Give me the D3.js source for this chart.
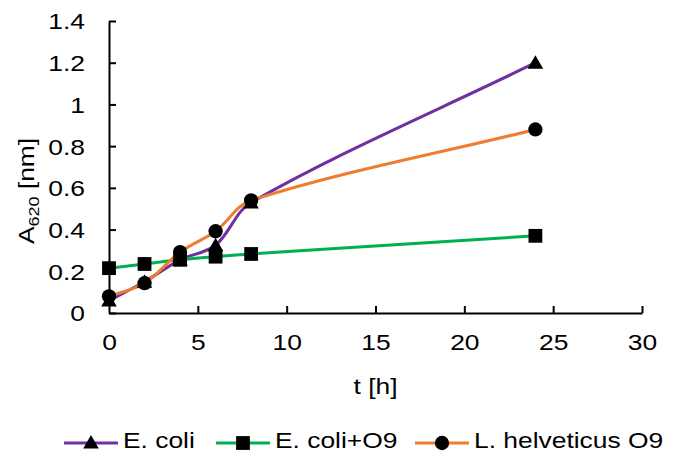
<!DOCTYPE html>
<html>
<head>
<meta charset="utf-8">
<script src="https://cdn.jsdelivr.net/npm/d3@7"></script>
<style>
  body { margin: 0; background: #fff; }
  svg text { font-family: "Liberation Sans", Arial, sans-serif; fill: #000; }
</style>
</head>
<body>
<svg id="chart" width="683" height="459"></svg>
<script>
const hours = [0, 2, 4, 6, 8, 24];
const ecoli = [0.06, 0.15, 0.255, 0.325, 0.53, 1.2];
const ecoliO9 = [0.215, 0.235, 0.255, 0.27, 0.283, 0.37];
const helveticus = [0.08, 0.143, 0.292, 0.392, 0.54, 0.88];
const xTicks = [0, 5, 10, 15, 20, 25, 30];
const yTicks = [0, 0.2, 0.4, 0.6, 0.8, 1, 1.2, 1.4];

const series = [
  { name: 'E. coli', values: ecoli, color: '#7030A0', marker: 'triangle' },
  { name: 'E. coli+O9', values: ecoliO9, color: '#00B050', marker: 'square' },
  { name: 'L. helveticus O9', values: helveticus, color: '#ED7D31', marker: 'circle' },
];

const FONT = '22px';
const SX = 1.2; // the original text is drawn a bit wide

// widen a text along its reading direction, keeping its anchor in place
function stretch(sel) {
  sel.each(function () {
    const t = d3.select(this);
    const x = +t.attr('x') || 0;
    t.attr('x', x / SX)
      .attr('transform', `scale(${SX}, 1)`);
  });
}

const svg = d3.select('#chart');
const margin = { top: 21, left: 109, right: 41, bottom: 146 };
const width = 683 - margin.left - margin.right;
const height = 459 - margin.top - margin.bottom;

const xScale = d3.scaleLinear().domain([0, 30]).range([0, width]);
const yScale = d3.scaleLinear().domain([0, 1.4]).range([height, 0]);

const chart = svg.append('g')
  .attr('transform', `translate(${margin.left}, ${margin.top})`);

// axes, ticks pointing inward like the original
const xAxis = chart.append('g')
  .attr('transform', `translate(0, ${height})`)
  .call(d3.axisBottom(xScale).tickValues(xTicks).tickSizeInner(-7).tickSizeOuter(0).tickPadding(22));
const yAxis = chart.append('g')
  .call(d3.axisLeft(yScale).tickValues(yTicks).tickFormat(d3.format('')).tickSizeInner(-7).tickSizeOuter(0).tickPadding(24));

[xAxis, yAxis].forEach((ax) => {
  ax.attr('font-size', null).attr('font-family', null);
  ax.select('.domain').attr('stroke', '#000').attr('stroke-width', 2);
  ax.selectAll('.tick line').attr('stroke', '#000').attr('stroke-width', 2);
  ax.selectAll('.tick text').style('font-size', FONT).call(stretch);
});
xAxis.selectAll('.tick').filter(d => d === 0).select('line').remove();
xAxis.selectAll('.tick text').attr('y', 37).attr('dy', null);
yAxis.selectAll('.tick text').attr('dy', '0.36em');

// axis titles
svg.append('text')
  .attr('x', margin.left + xScale(15))
  .attr('y', 394)
  .attr('text-anchor', 'middle')
  .style('font-size', FONT)
  .call(stretch)
  .text('t [h]');

const yTitleG = svg.append('g')
  .attr('transform', `translate(34, ${margin.top + yScale(0.585)}) rotate(-90)`);
const yTitle = yTitleG.append('text')
  .attr('text-anchor', 'middle')
  .style('font-size', FONT)
  .call(stretch);
yTitle.append('tspan').text('A');
yTitle.append('tspan').attr('dy', 5).style('font-size', '15px').text('620');
yTitle.append('tspan').attr('dy', -5).text(' [nm]');

const symbolFor = {
  triangle: d3.symbol().type(d3.symbolTriangle).size(105),
  square: d3.symbol().type(d3.symbolSquare).size(190),
  circle: d3.symbol().type(d3.symbolCircle).size(160),
};

// smoothed line: tangent follows the neighbours, handle length follows each segment
function smoothPath(values) {
  const pts = values.map((v, i) => [xScale(hours[i]), yScale(v)]);
  const n = pts.length;
  const dir = pts.map((p, i) => {
    const a = pts[Math.max(i - 1, 0)];
    const b = pts[Math.min(i + 1, n - 1)];
    const dx = b[0] - a[0];
    const dy = b[1] - a[1];
    const len = Math.hypot(dx, dy) || 1;
    return [dx / len, dy / len];
  });
  const path = d3.path();
  path.moveTo(pts[0][0], pts[0][1]);
  for (let i = 0; i < n - 1; i += 1) {
    const p0 = pts[i];
    const p1 = pts[i + 1];
    const seg = Math.hypot(p1[0] - p0[0], p1[1] - p0[1]) / 3;
    path.bezierCurveTo(
      p0[0] + dir[i][0] * seg, p0[1] + dir[i][1] * seg,
      p1[0] - dir[i + 1][0] * seg, p1[1] - dir[i + 1][1] * seg,
      p1[0], p1[1],
    );
  }
  return path.toString();
}

series.forEach((s) => {
  chart.append('path')
    .attr('d', smoothPath(s.values))
    .attr('fill', 'none')
    .attr('stroke', s.color)
    .attr('stroke-width', 3);
});

series.forEach((s) => {
  chart.selectAll(null)
    .data(s.values)
    .enter()
    .append('path')
    .attr('d', symbolFor[s.marker])
    .attr('transform', (d, i) => `translate(${xScale(hours[i])}, ${yScale(d) + (s.marker === 'triangle' ? 1.5 : 0)})`)
    .attr('fill', '#000');
});

// legend
const legendX = [64, 216, 415];
const legendY = 443;
series.forEach((s, i) => {
  const g = svg.append('g').attr('transform', `translate(${legendX[i]}, ${legendY})`);
  g.append('line')
    .attr('x1', 0).attr('x2', 54)
    .attr('stroke', s.color)
    .attr('stroke-width', 3);
  g.append('path')
    .attr('d', symbolFor[s.marker])
    .attr('transform', `translate(27, ${s.marker === 'triangle' ? 1 : 0})`)
    .attr('fill', '#000');
  g.append('text')
    .attr('x', 59)
    .attr('y', 5)
    .style('font-size', FONT)
    .call(stretch)
    .text(s.name);
});
</script>
</body>
</html>
